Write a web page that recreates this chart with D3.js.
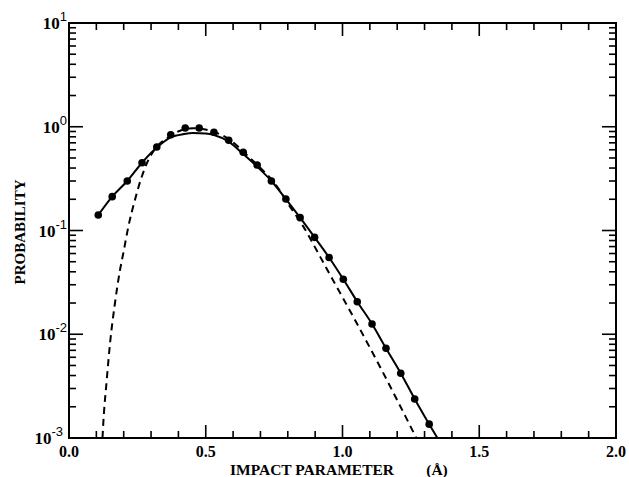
<!DOCTYPE html>
<html>
<head>
<meta charset="utf-8">
<script src="https://cdn.jsdelivr.net/npm/d3@7/dist/d3.min.js"></script>
<style>
  body { margin: 0; background: #fff; }
  svg { display: block; }
</style>
</head>
<body>
<div id="chart"></div>
<script>
// data points (dots)
var pointX = [0.107, 0.158, 0.213, 0.267, 0.321, 0.372, 0.425, 0.476, 0.530, 0.584, 0.637, 0.688,
              0.740, 0.793, 0.845, 0.898, 0.951, 1.003, 1.054, 1.108, 1.159, 1.213, 1.264, 1.317];
var pointY = [0.141, 0.212, 0.300, 0.450, 0.638, 0.838, 0.972, 0.972, 0.885, 0.740, 0.567, 0.428,
              0.300, 0.201, 0.133, 0.0859, 0.0549, 0.0339, 0.0206, 0.01256, 0.00733, 0.00421, 0.00238, 0.00136];

// solid curve
var solidX = [0.107, 0.158, 0.213, 0.267, 0.321, 0.372, 0.42, 0.453, 0.50, 0.53, 0.584, 0.637, 0.688,
              0.740, 0.793, 0.845, 0.898, 0.951, 1.003, 1.054, 1.108, 1.159, 1.213, 1.264, 1.317, 1.347];
var solidY = [0.141, 0.212, 0.300, 0.450, 0.630, 0.790, 0.850, 0.870, 0.860, 0.833, 0.718, 0.546, 0.412,
              0.300, 0.201, 0.133, 0.0859, 0.0549, 0.0339, 0.0206, 0.01256, 0.00733, 0.00421, 0.00238, 0.00136, 0.001];

// dashed curve
var dashX = [0.1225, 0.1254, 0.138, 0.150, 0.168, 0.1865, 0.1985, 0.217, 0.241, 0.266, 0.290, 0.312, 0.3265,
             0.36, 0.406, 0.455, 0.528, 0.589, 0.650, 0.70, 0.75, 0.808, 0.857, 0.918, 0.97, 1.039, 1.137, 1.27];
var dashY = [0.001, 0.00139, 0.00362, 0.00818, 0.0199, 0.0416, 0.0603, 0.1088, 0.197, 0.330, 0.478, 0.597, 0.667,
             0.78, 0.916, 0.966, 0.896, 0.745, 0.534, 0.40, 0.29, 0.17, 0.109, 0.056, 0.0316, 0.0148, 0.00486, 0.001];

var xMajorTicks = [0, 0.5, 1.0, 1.5, 2.0];
var yDecades = [1e-3, 1e-2, 1e-1, 1e0, 1e1];
var yExponents = ["-3", "-2", "-1", "0", "1"];

var width = 629, height = 477;
var plotLeft = 69, plotRight = 616, plotTop = 23, plotBottom = 438;

var svg = d3.select("#chart").append("svg").attr("width", width).attr("height", height);

var x = d3.scaleLinear().domain([0, 2]).range([plotLeft, plotRight]);
var y = d3.scaleLog().domain([1e-3, 1e1]).range([plotBottom, plotTop]);

var serif = "'Liberation Serif', 'DejaVu Serif', serif";

// minor / major ticks on all four sides, pointing inward
var xMinor = d3.range(0, 21).map(function(i){ return i / 10; });
var yMinor = y.ticks();

var tickG = svg.append("g").attr("stroke", "#000").attr("stroke-width", 1.6);
xMinor.forEach(function(v){
  var isMajor = xMajorTicks.indexOf(v) >= 0;
  var len = isMajor ? 13 : 7;
  tickG.append("line").attr("x1", x(v)).attr("x2", x(v)).attr("y1", plotBottom).attr("y2", plotBottom - len);
  tickG.append("line").attr("x1", x(v)).attr("x2", x(v)).attr("y1", plotTop).attr("y2", plotTop + len);
});
yMinor.forEach(function(v){
  var isMajor = yDecades.indexOf(v) >= 0;
  var len = isMajor ? 14 : 7;
  tickG.append("line").attr("x1", plotLeft).attr("x2", plotLeft + len).attr("y1", y(v)).attr("y2", y(v));
  tickG.append("line").attr("x1", plotRight).attr("x2", plotRight - len).attr("y1", y(v)).attr("y2", y(v));
});

// frame
svg.append("rect")
  .attr("x", plotLeft).attr("y", plotTop)
  .attr("width", plotRight - plotLeft).attr("height", plotBottom - plotTop)
  .attr("fill", "none").attr("stroke", "#000").attr("stroke-width", 2);

// x tick labels
svg.append("g").selectAll("text").data(xMajorTicks).enter().append("text")
  .attr("x", function(d){ return x(d); })
  .attr("y", plotBottom + 18.5)
  .attr("text-anchor", "middle")
  .style("font-family", serif).style("font-weight", "bold").style("font-size", "16px")
  .text(function(d){ return d3.format(".1f")(d); });

// y tick labels
var yl = svg.append("g").selectAll("text").data(yDecades).enter().append("text")
  .attr("x", function(d, i){ return i == 0 ? 63 : 67; })
  .attr("y", function(d){ return y(d) + 6; })
  .attr("text-anchor", "end")
  .style("font-family", serif).style("font-weight", "bold").style("font-size", "17px");
yl.append("tspan").text("10");
yl.append("tspan")
  .attr("dy", -8)
  .style("font-family", "'Liberation Sans', sans-serif").style("font-weight", "normal").style("font-size", "13px")
  .text(function(d, i){ return yExponents[i]; });

// axis titles
svg.append("text")
  .attr("x", 312).attr("y", 474.5)
  .attr("text-anchor", "middle")
  .style("font-family", serif).style("font-weight", "bold").style("font-size", "15.5px")
  .text("IMPACT PARAMETER");
svg.append("text")
  .attr("x", 437).attr("y", 474.5)
  .attr("text-anchor", "middle")
  .style("font-family", serif).style("font-weight", "bold").style("font-size", "15.5px")
  .text("(Å)");

svg.append("text")
  .attr("transform", "translate(25,232) rotate(-90)")
  .attr("text-anchor", "middle")
  .style("font-family", serif).style("font-weight", "bold").style("font-size", "15px")
  .text("PROBABILITY");

// clip for the curves
svg.append("clipPath").attr("id", "plotClip").append("rect")
  .attr("x", plotLeft).attr("y", plotTop).attr("width", plotRight - plotLeft).attr("height", plotBottom - plotTop);

var line = d3.line()
  .x(function(d){ return x(d[0]); })
  .y(function(d){ return y(d[1]); })
  .curve(d3.curveMonotoneX);

var solidData = solidX.map(function(v, i){ return [v, solidY[i]]; });
var dashData = dashX.map(function(v, i){ return [v, dashY[i]]; });
var pointData = pointX.map(function(v, i){ return [v, pointY[i]]; });

var plot = svg.append("g").attr("clip-path", "url(#plotClip)");

plot.append("path")
  .datum(dashData)
  .attr("d", line)
  .attr("fill", "none").attr("stroke", "#000")
  .style("stroke-width", 2)
  .style("stroke-dasharray", "7,5");

plot.append("path")
  .datum(solidData)
  .attr("d", line)
  .attr("fill", "none").attr("stroke", "#000")
  .style("stroke-width", 2);

plot.selectAll("circle").data(pointData).enter().append("circle")
  .attr("cx", function(d){ return x(d[0]); })
  .attr("cy", function(d){ return y(d[1]); })
  .attr("r", 3.8)
  .attr("fill", "#000");
</script>
</body>
</html>
